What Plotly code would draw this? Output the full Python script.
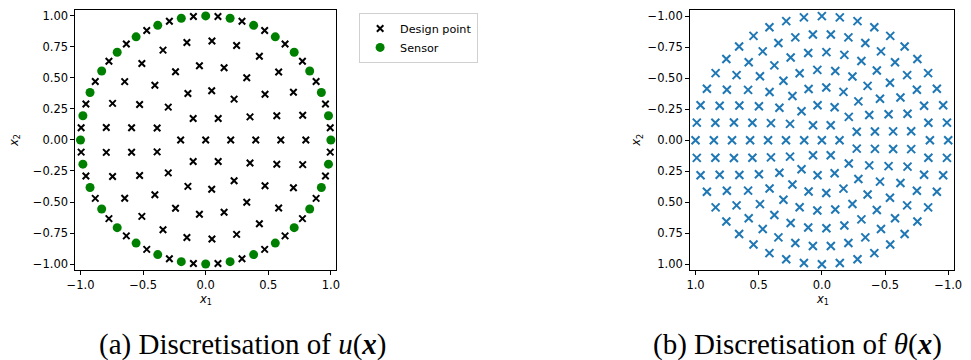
import plotly.graph_objects as go

W, H = 971, 360

# ---------------- panel (a): discretisation of u(x) ----------------
design_x = [
    0.0,
    0.2, 0.1, -0.1, -0.2, -0.1, 0.1,
    0.4, 0.354, 0.227, 0.048, -0.142, -0.299, -0.388, -0.388, -0.299, -0.142, 0.048, 0.227, 0.354,
    0.6, 0.568, 0.474, 0.328, 0.147, -0.050, -0.241, -0.406, -0.528, -0.592,
    -0.592, -0.528, -0.406, -0.241, -0.050, 0.147, 0.328, 0.474, 0.568,
    0.8, 0.775, 0.701, 0.583, 0.429, 0.247, 0.050, -0.150, -0.341, -0.510, -0.647, -0.744, -0.794,
    -0.794, -0.744, -0.647, -0.510, -0.341, -0.150, 0.050, 0.247, 0.429, 0.583, 0.701, 0.775,
    0.995, 0.957, 0.882, 0.773, 0.634, 0.471, 0.290, 0.098, -0.098, -0.290, -0.471, -0.634, -0.773, -0.882, -0.957, -0.995,
    -0.995, -0.957, -0.882, -0.773, -0.634, -0.471, -0.290, -0.098, 0.098, 0.290, 0.471, 0.634, 0.773, 0.882, 0.957, 0.995,
]
design_y = [
    0.0,
    0.0, 0.173, 0.173, 0.0, -0.173, -0.173,
    0.0, 0.186, 0.329, 0.397, 0.374, 0.265, 0.096, -0.096, -0.265, -0.374, -0.397, -0.329, -0.186,
    0.0, 0.195, 0.369, 0.502, 0.582, 0.598, 0.550, 0.441, 0.286, 0.099,
    -0.099, -0.286, -0.441, -0.550, -0.598, -0.582, -0.502, -0.369, -0.195,
    0.0, 0.199, 0.385, 0.548, 0.675, 0.761, 0.798, 0.786, 0.724, 0.616, 0.470, 0.295, 0.100,
    -0.100, -0.295, -0.470, -0.616, -0.724, -0.786, -0.798, -0.761, -0.675, -0.548, -0.385, -0.199,
    0.098, 0.290, 0.471, 0.634, 0.773, 0.882, 0.957, 0.995, 0.995, 0.957, 0.882, 0.773, 0.634, 0.471, 0.290, 0.098,
    -0.098, -0.290, -0.471, -0.634, -0.773, -0.882, -0.957, -0.995, -0.995, -0.957, -0.882, -0.773, -0.634, -0.471, -0.290, -0.098,
]
sensor_x = [1.0, 0.981, 0.924, 0.831, 0.707, 0.556, 0.383, 0.195, 0.0, -0.195, -0.383, -0.556, -0.707, -0.831, -0.924, -0.981,
            -1.0, -0.981, -0.924, -0.831, -0.707, -0.556, -0.383, -0.195, 0.0, 0.195, 0.383, 0.556, 0.707, 0.831, 0.924, 0.981]
sensor_y = [0.0, 0.195, 0.383, 0.556, 0.707, 0.831, 0.924, 0.981, 1.0, 0.981, 0.924, 0.831, 0.707, 0.556, 0.383, 0.195,
            0.0, -0.195, -0.383, -0.556, -0.707, -0.831, -0.924, -0.981, -1.0, -0.981, -0.924, -0.831, -0.707, -0.556, -0.383, -0.195]

# ---------------- panel (b): discretisation of theta(x) ----------------
theta_bnd_x = [1.0, 0.990, 0.960, 0.910, 0.841, 0.756, 0.655, 0.541, 0.415, 0.282, 0.142, 0.0,
               -0.142, -0.282, -0.415, -0.541, -0.655, -0.756, -0.841, -0.910, -0.960, -0.990, -1.0,
               -0.990, -0.960, -0.910, -0.841, -0.756, -0.655, -0.541, -0.415, -0.282, -0.142, 0.0,
               0.142, 0.282, 0.415, 0.541, 0.655, 0.756, 0.841, 0.910, 0.960, 0.990]
theta_bnd_y = [0.0, 0.142, 0.282, 0.415, 0.541, 0.655, 0.756, 0.841, 0.910, 0.960, 0.990, 1.0,
               0.990, 0.960, 0.910, 0.841, 0.756, 0.655, 0.541, 0.415, 0.282, 0.142, 0.0,
               -0.142, -0.282, -0.415, -0.541, -0.655, -0.756, -0.841, -0.910, -0.960, -0.990, -1.0,
               -0.990, -0.960, -0.910, -0.841, -0.756, -0.655, -0.541, -0.415, -0.282, -0.142]
theta_a_x = [0.855, 0.843, 0.809, 0.752, 0.675, 0.579, 0.468, 0.344, 0.210, 0.071,
             -0.071, -0.210, -0.344, -0.468, -0.579, -0.675, -0.752, -0.809, -0.843, -0.855,
             -0.843, -0.809, -0.752, -0.675, -0.579, -0.468, -0.344, -0.210, -0.071,
             0.071, 0.210, 0.344, 0.468, 0.579, 0.675, 0.752, 0.809, 0.843]
theta_a_y = [0.0, 0.141, 0.278, 0.407, 0.525, 0.629, 0.716, 0.783, 0.829, 0.852,
             0.852, 0.829, 0.783, 0.716, 0.629, 0.525, 0.407, 0.278, 0.141, 0.0,
             -0.141, -0.278, -0.407, -0.525, -0.629, -0.716, -0.783, -0.829, -0.852,
             -0.852, -0.829, -0.783, -0.716, -0.629, -0.525, -0.407, -0.278, -0.141]
theta_b_x = [0.711, 0.696, 0.653, 0.584, 0.490, 0.376, 0.247, 0.108, -0.036, -0.178, -0.313, -0.435, -0.539, -0.622, -0.678, -0.707,
             -0.707, -0.678, -0.622, -0.539, -0.435, -0.313, -0.178, -0.036, 0.108, 0.247, 0.376, 0.490, 0.584, 0.653, 0.696]
theta_b_y = [0.0, 0.143, 0.280, 0.406, 0.515, 0.603, 0.667, 0.703, 0.710, 0.688, 0.638, 0.562, 0.463, 0.345, 0.213, 0.072,
             -0.072, -0.213, -0.345, -0.463, -0.562, -0.638, -0.688, -0.710, -0.703, -0.667, -0.603, -0.515, -0.406, -0.280, -0.143]
theta_c_x = [0.568, 0.550, 0.498, 0.414, 0.304, 0.176, 0.036, -0.106, -0.242, -0.362, -0.460, -0.528, -0.564,
             -0.564, -0.528, -0.460, -0.362, -0.242, -0.106, 0.036, 0.176, 0.304, 0.414, 0.498, 0.550]
theta_c_y = [0.0, 0.141, 0.274, 0.389, 0.480, 0.540, 0.567, 0.558, 0.514, 0.438, 0.334, 0.209, 0.071,
             -0.071, -0.209, -0.334, -0.438, -0.514, -0.558, -0.567, -0.540, -0.480, -0.389, -0.274, -0.141]
theta_d_x = [0.426, 0.403, 0.336, 0.233, 0.105, -0.035, -0.171, -0.289, -0.375, -0.420,
             -0.420, -0.375, -0.289, -0.171, -0.035, 0.105, 0.233, 0.336, 0.403]
theta_d_y = [0.0, 0.138, 0.262, 0.357, 0.413, 0.425, 0.390, 0.313, 0.203, 0.070,
             -0.070, -0.203, -0.313, -0.390, -0.425, -0.413, -0.357, -0.262, -0.138]
theta_e_x = [0.284, 0.252, 0.161, 0.034, -0.101, -0.213, -0.276, -0.276, -0.213, -0.101, 0.034, 0.161, 0.252]
theta_e_y = [0.0, 0.132, 0.234, 0.282, 0.266, 0.188, 0.068, -0.068, -0.188, -0.266, -0.282, -0.234, -0.132]
theta_f_x = [0.14, 0.07, -0.07, -0.14, -0.07, 0.07, 0.0]
theta_f_y = [0.0, 0.121, 0.121, 0.0, -0.121, -0.121, 0.0]

theta_x = theta_bnd_x + theta_a_x + theta_b_x + theta_c_x + theta_d_x + theta_e_x + theta_f_x
theta_y = theta_bnd_y + theta_a_y + theta_b_y + theta_c_y + theta_d_y + theta_e_y + theta_f_y

# tick labels
x_ticks = [-1.0, -0.5, 0.0, 0.5, 1.0]
x_ticktext = ["\u22121.0", "\u22120.5", "0.0", "0.5", "1.0"]
y_ticks = [-1.0, -0.75, -0.5, -0.25, 0.0, 0.25, 0.5, 0.75, 1.0]
y_ticktext = ["\u22121.00", "\u22120.75", "\u22120.50", "\u22120.25", "0.00", "0.25", "0.50", "0.75", "1.00"]

TICKFONT = dict(family="DejaVu Sans", size=11.5, color="black")

fig = go.Figure()
fig.add_trace(go.Scatter(x=design_x, y=design_y, mode="markers", name="Design point",
                         marker=dict(symbol="x-thin", size=6.5, color="black",
                                     line=dict(color="black", width=2)),
                         xaxis="x", yaxis="y"))
fig.add_trace(go.Scatter(x=sensor_x, y=sensor_y, mode="markers", name="Sensor",
                         marker=dict(symbol="circle", size=9, color="#008000", line=dict(width=0)),
                         xaxis="x", yaxis="y"))
fig.add_trace(go.Scatter(x=theta_x, y=theta_y, mode="markers", name="theta", showlegend=False,
                         marker=dict(symbol="x-thin", size=8, color="#1f77b4",
                                     line=dict(color="#1f77b4", width=2)),
                         xaxis="x2", yaxis="y2"))

def ax(domain, rng, tv, tt, anchor):
    return dict(domain=domain, range=rng, tickvals=tv, ticktext=tt, anchor=anchor,
                showline=True, mirror=True, linecolor="black", linewidth=1,
                ticks="outside", ticklen=3.5, tickwidth=0.8, tickcolor="black",
                showgrid=False, zeroline=False, tickfont=TICKFONT, fixedrange=True)

yd = [(H - 271) / H, (H - 9) / H]
fig.update_layout(
    width=W, height=H, margin=dict(l=0, r=0, t=0, b=0),
    paper_bgcolor="white", plot_bgcolor="white",
    xaxis=ax([68 / W, 334 / W], [-1.045, 1.045], x_ticks, x_ticktext, "y"),
    yaxis=ax(yd, [-1.052, 1.048], y_ticks, y_ticktext, "x"),
    xaxis2=ax([693 / W, 962 / W], [1.047, -1.047], x_ticks, x_ticktext, "y2"),
    yaxis2=ax(yd, [1.05, -1.05], y_ticks, y_ticktext, "x2"),
    showlegend=True,
    legend=dict(x=357 / W, y=(H - 12) / H, xanchor="left", yanchor="top",
                bordercolor="#d0d0d0", borderwidth=1, bgcolor="white",
                font=dict(family="DejaVu Sans", size=11.2, color="black"),
                tracegroupgap=0, itemsizing="trace", itemwidth=30),
)

LABELFONT = dict(family="DejaVu Sans", size=11.5, color="black")
CAPFONT = dict(family="Liberation Serif", size=29, color="black")
ann = [
    dict(text="<i>x</i><sub>1</sub>", x=201 / W, y=(H - 300) / H, font=LABELFONT),
    dict(text="<i>x</i><sub>2</sub>", x=6 / W, y=(H - 140) / H, textangle=-90, font=LABELFONT),
    dict(text="<i>x</i><sub>1</sub>", x=828 / W, y=(H - 300) / H, font=LABELFONT),
    dict(text="<i>x</i><sub>2</sub>", x=639 / W, y=(H - 140) / H, textangle=-90, font=LABELFONT),
    dict(text="(a) Discretisation of <i>u</i>(<b><i>x</i></b>)", x=239 / W, y=(H - 345) / H, font=CAPFONT),
    dict(text="(b) Discretisation of <i>θ</i>(<b><i>x</i></b>)", x=803 / W, y=(H - 345) / H, font=CAPFONT),
]
for a in ann:
    a.update(xref="paper", yref="paper", showarrow=False, xanchor="center", yanchor="middle")
fig.update_layout(annotations=ann)

fig.write_html("out.html")
